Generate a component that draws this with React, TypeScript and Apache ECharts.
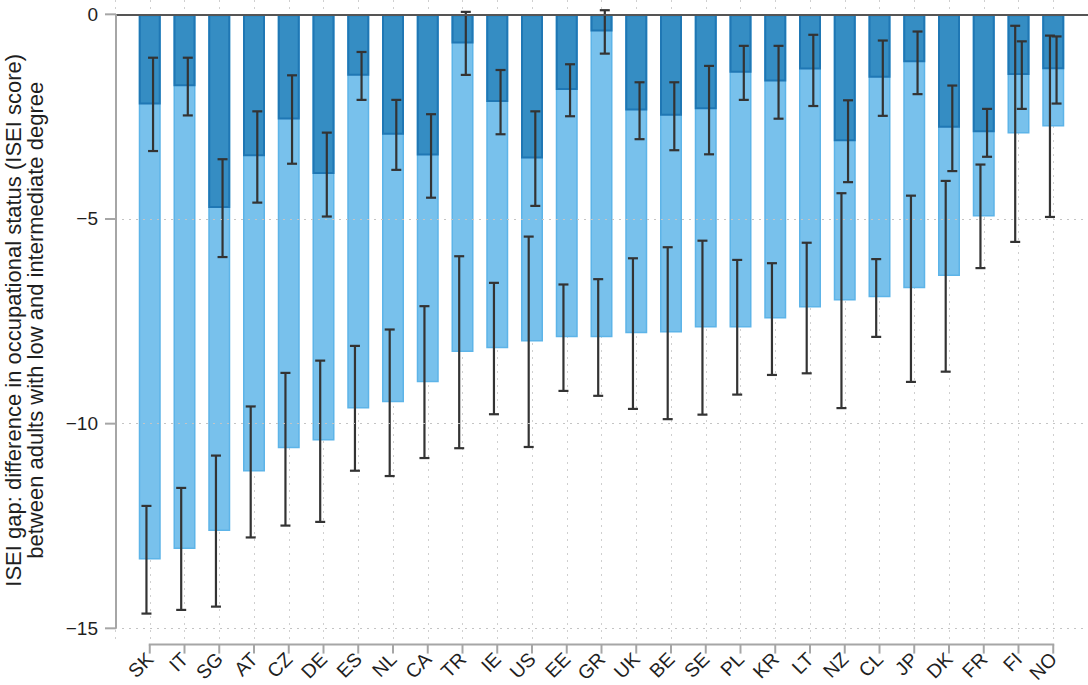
import React, { useEffect, useRef } from 'react';
import * as echarts from 'echarts';

const countries = ['SK','IT','SG','AT','CZ','DE','ES','NL','CA','TR','IE','US','EE','GR','UK','BE','SE','PL','KR','LT','NZ','CL','JP','DK','FR','FI','NO'];

// light bars (larger gap)
const lightGap = [-13.32,-13.06,-12.62,-11.17,-10.60,-10.41,-9.63,-9.48,-8.99,-8.25,-8.16,-7.99,-7.89,-7.89,-7.79,-7.77,-7.65,-7.65,-7.43,-7.16,-6.99,-6.91,-6.69,-6.39,-4.94,-2.91,-2.74];
const lightHi = [-12.01,-11.57,-10.78,-9.58,-8.76,-8.46,-8.10,-7.70,-7.13,-5.91,-6.56,-5.43,-6.60,-6.47,-5.96,-5.69,-5.53,-6.00,-6.08,-5.58,-4.37,-5.98,-4.43,-4.07,-3.67,-0.28,-0.52];
const lightLo = [-14.64,-14.55,-14.47,-12.78,-12.49,-12.40,-11.15,-11.28,-10.84,-10.60,-9.77,-10.57,-9.20,-9.32,-9.64,-9.89,-9.78,-9.29,-8.81,-8.77,-9.62,-7.88,-8.98,-8.73,-6.20,-5.56,-4.95];

// dark bars (smaller gap)
const darkGap = [-2.20,-1.76,-4.73,-3.47,-2.57,-3.90,-1.50,-2.94,-3.45,-0.71,-2.14,-3.52,-1.85,-0.42,-2.35,-2.48,-2.32,-1.43,-1.64,-1.35,-3.10,-1.55,-1.17,-2.77,-2.88,-1.48,-1.34];
const darkHi = [-1.06,-1.06,-3.54,-2.37,-1.49,-2.89,-0.92,-2.09,-2.44,0.06,-1.36,-2.37,-1.22,0.10,-1.66,-1.66,-1.26,-0.77,-0.77,-0.50,-2.10,-0.64,-0.42,-1.74,-2.31,-0.66,-0.54];
const darkLo = [-3.34,-2.47,-5.93,-4.60,-3.65,-4.94,-2.09,-3.80,-4.48,-1.48,-2.93,-4.68,-2.49,-0.96,-3.05,-3.32,-3.42,-2.09,-2.55,-2.24,-4.10,-2.48,-1.95,-3.83,-3.48,-2.31,-2.18];

const yTicks = [-15, -10, -5, 0];
const yMin = -15.3;
const yMax = 0.35;

const FONT = 'Liberation Sans, Arial, Helvetica, sans-serif';
const TEXT = '#1f1f1f';
const AXIS = '#a6a6a6';

function errRender(dx: number) {
  return (params: any, api: any) => {
    const i = api.value(0);
    const hi = api.coord([i, api.value(1)]);
    const lo = api.coord([i, api.value(2)]);
    const x = hi[0] + dx;
    const cap = 5;
    const style = { stroke: '#333333', lineWidth: 2.2 };
    return {
      type: 'group',
      children: [
        { type: 'line', shape: { x1: x, y1: hi[1], x2: x, y2: lo[1] }, style },
        { type: 'line', shape: { x1: x - cap, y1: hi[1], x2: x + cap, y2: hi[1] }, style },
        { type: 'line', shape: { x1: x - cap, y1: lo[1], x2: x + cap, y2: lo[1] }, style },
      ],
    };
  };
}

function axisRender(params: any, api: any) {
  const top = api.coord([-1, 0]);
  const bot = api.coord([-1, -15]);
  return {
    type: 'line',
    shape: { x1: top[0] + 1, y1: top[1], x2: bot[0] + 1, y2: bot[1] },
    style: { stroke: AXIS, lineWidth: 2 },
  };
}

export default function App() {
  const ref = useRef<HTMLDivElement>(null);
  useEffect(() => {
    if (!ref.current) return;
    const chart = echarts.init(ref.current, undefined, { renderer: 'svg' });
    const idx = countries.map((_, i) => i);
    const grid = { color: '#c4c4c4', type: [2, 5], width: 1.2 };
    chart.setOption({
      animation: false,
      grid: { left: 115, right: 0, top: 0, bottom: 44.4, containLabel: false, outerBoundsMode: 'none' },
      xAxis: {
        type: 'value',
        min: -1,
        max: 27,
        interval: 1,
        offset: 4,
        axisLine: { show: false },
        axisTick: { show: false },
        axisLabel: {
          customValues: idx,
          formatter: (v: number) => countries[Math.round(v)] ?? '',
          rotate: 45,
          fontSize: 19.5,
          fontFamily: FONT,
          color: TEXT,
          margin: 11,
        },
        splitLine: { show: true, lineStyle: { color: '#cfcfcf', type: [2, 5], width: 1 } },
      },
      yAxis: {
        type: 'value',
        min: yMin,
        max: yMax,
        axisLine: { show: false },
        axisTick: { show: false },
        axisLabel: {
          customValues: yTicks,
          formatter: (v: number) => (v < 0 ? '\u2212' + Math.abs(v) : String(v)),
          fontSize: 19,
          fontFamily: FONT,
          color: TEXT,
          margin: 17,
        },
        splitLine: { show: false },
        name: 'ISEI gap: difference in occupational status (ISEI score)\nbetween adults with low and intermediate degree',
        nameLocation: 'middle',
        nameGap: 69,
        nameTextStyle: { fontSize: 22, fontFamily: FONT, color: TEXT, lineHeight: 22 },
      },
      series: [
        {
          type: 'line',
          data: [],
          z: 1,
          silent: true,
          markLine: {
            silent: true,
            symbol: 'none',
            label: { show: false },
            data: [
              { yAxis: -15, lineStyle: grid },
              { yAxis: -10, lineStyle: grid },
              { yAxis: -5, lineStyle: grid },
              { yAxis: 0, lineStyle: { color: '#555555', type: 'solid', width: 2 } },
            ],
          },
        },
        {
          type: 'custom',
          z: 6,
          silent: true,
          clip: false,
          renderItem: axisRender,
          data: [[-1, 0]],
          encode: { x: 0, y: 1 },
        },
        {
          type: 'bar',
          data: idx.map((i) => [i, lightGap[i]]),
          barWidth: 22,
          barGap: '-100%',
          z: 2,
          itemStyle: { color: '#78c1ec', borderColor: '#5db4e8', borderWidth: 1.5 },
        },
        {
          type: 'bar',
          data: idx.map((i) => [i, darkGap[i]]),
          barWidth: 22,
          barGap: '-100%',
          z: 3,
          itemStyle: { color: '#358dc3', borderColor: '#1f77b4', borderWidth: 2 },
        },
        {
          type: 'custom',
          z: 4,
          renderItem: errRender(-3.3),
          data: idx.map((i) => [i, lightHi[i], lightLo[i]]),
          encode: { x: 0, y: [1, 2] },
        },
        {
          type: 'custom',
          z: 4,
          renderItem: errRender(3.3),
          data: idx.map((i) => [i, darkHi[i], darkLo[i]]),
          encode: { x: 0, y: [1, 2] },
        },
      ],
    });

    const toPx = (p: number[]) => chart.convertToPixel({ gridIndex: 0 }, p) as number[];
    const xFirst = toPx([0, yMin]);
    const xLast = toPx([26, yMin]);
    const xAxisY = xFirst[1] + 4;
    const axisStyle = { stroke: AXIS, lineWidth: 2 };
    const els: any[] = [
      { id: 'xline', type: 'line', silent: true, z: 5, shape: { x1: xFirst[0] - 1, y1: xAxisY, x2: xLast[0] + 1, y2: xAxisY }, style: axisStyle },
    ];
    yTicks.forEach((v, k) => {
      const p = toPx([-1, v]);
      els.push({ id: 'yt' + k, type: 'line', silent: true, z: 5, shape: { x1: p[0] - 10, y1: p[1], x2: p[0] + 1, y2: p[1] }, style: axisStyle });
    });
    idx.forEach((i) => {
      const p = toPx([i, yMin]);
      els.push({ id: 'xt' + i, type: 'line', silent: true, z: 5, shape: { x1: p[0], y1: xAxisY, x2: p[0], y2: xAxisY + 9 }, style: axisStyle });
    });
    chart.setOption({ graphic: els });

    return () => chart.dispose();
  }, []);
  return <div ref={ref} style={{ position: 'absolute', left: 0, top: 0, width: 1088, height: 685 }} />;
}
